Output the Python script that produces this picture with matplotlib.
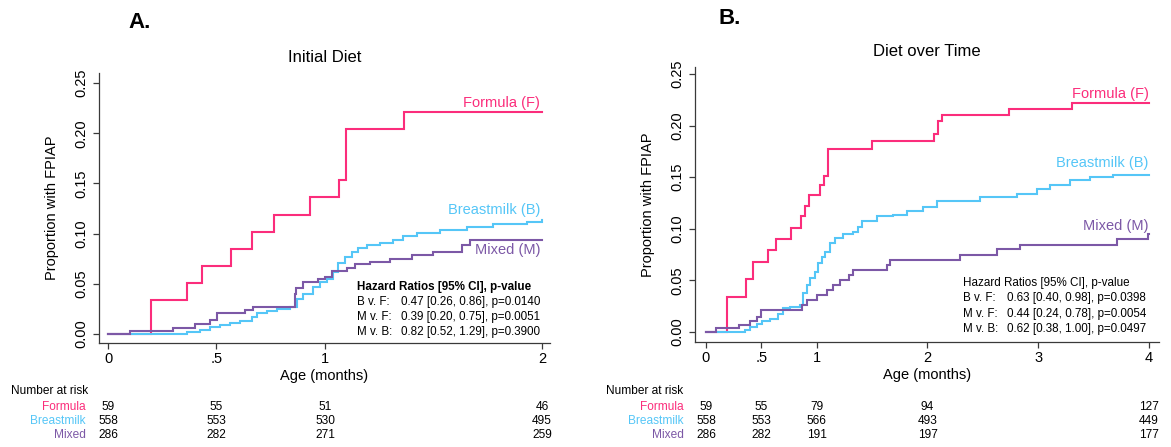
import matplotlib
matplotlib.use('Agg')
import matplotlib.pyplot as plt
import matplotlib.transforms as mtransforms

plt.rcParams['font.family'] = ['Liberation Sans', 'DejaVu Sans']

# ---- Panel A: Initial Diet (cumulative proportion with FPIAP) ----
a_form_t = [0, 0.198, 0.366, 0.432, 0.565, 0.665, 0.765, 0.931, 1.066, 1.097, 1.364, 2.0]
a_form_y = [0, 0.034, 0.051, 0.068, 0.085, 0.102, 0.119, 0.136, 0.153, 0.204, 0.221, 0.221]

a_breast_t = [0, 0.363, 0.424, 0.470, 0.516, 0.562, 0.608, 0.662, 0.685, 0.731, 0.777, 0.839,
              0.869, 0.900, 0.946, 0.977, 1.007, 1.038, 1.062, 1.092, 1.123, 1.154, 1.192,
              1.253, 1.315, 1.361, 1.422, 1.530, 1.653, 1.776, 1.930, 2.0]
a_breast_y = [0, 0.002, 0.004, 0.007, 0.009, 0.011, 0.013, 0.017, 0.021, 0.023, 0.025, 0.027,
              0.035, 0.040, 0.047, 0.052, 0.055, 0.062, 0.071, 0.077, 0.082, 0.086, 0.089,
              0.091, 0.094, 0.098, 0.101, 0.104, 0.107, 0.110, 0.112, 0.114]

a_mixed_t = [0, 0.101, 0.298, 0.401, 0.470, 0.501, 0.631, 0.667, 0.862, 0.865, 0.900, 0.969,
             1.0, 1.031, 1.100, 1.138, 1.207, 1.300, 1.400, 1.499, 1.630, 1.668, 2.0]
a_mixed_y = [0, 0.003, 0.006, 0.010, 0.014, 0.021, 0.024, 0.027, 0.040, 0.046, 0.052, 0.055,
             0.057, 0.063, 0.066, 0.070, 0.072, 0.075, 0.079, 0.082, 0.089, 0.094, 0.094]

# ---- Panel B: Diet over Time ----
b_form_t = [0, 0.187, 0.361, 0.427, 0.563, 0.632, 0.765, 0.861, 0.897, 0.933, 1.029, 1.065,
            1.099, 1.496, 2.062, 2.098, 2.131, 2.736, 3.302, 4.0]
b_form_y = [0, 0.034, 0.051, 0.068, 0.079, 0.090, 0.101, 0.112, 0.122, 0.133, 0.142, 0.151,
            0.177, 0.185, 0.192, 0.204, 0.210, 0.216, 0.222, 0.222]

b_breast_t = [0, 0.352, 0.397, 0.458, 0.503, 0.578, 0.653, 0.692, 0.758, 0.849, 0.879, 0.909,
              0.939, 0.984, 1.014, 1.044, 1.074, 1.120, 1.165, 1.240, 1.330, 1.375, 1.406,
              1.541, 1.691, 1.812, 1.962, 2.083, 2.474, 2.805, 2.986, 3.106, 3.287, 3.467,
              3.678, 4.0]
b_breast_y = [0, 0.002, 0.005, 0.008, 0.011, 0.013, 0.017, 0.023, 0.024, 0.026, 0.038, 0.046,
              0.052, 0.058, 0.067, 0.073, 0.078, 0.086, 0.091, 0.095, 0.097, 0.102, 0.108,
              0.112, 0.113, 0.117, 0.121, 0.127, 0.131, 0.134, 0.139, 0.142, 0.147, 0.150,
              0.152, 0.152]

b_mixed_t = [0, 0.090, 0.301, 0.397, 0.458, 0.497, 0.864, 0.909, 1.0, 1.09, 1.144, 1.21,
             1.294, 1.330, 1.631, 1.661, 2.293, 2.625, 2.835, 3.708, 3.995, 4.0]
b_mixed_y = [0, 0.004, 0.007, 0.011, 0.015, 0.021, 0.026, 0.031, 0.036, 0.041, 0.046, 0.050,
             0.055, 0.060, 0.065, 0.070, 0.075, 0.080, 0.084, 0.090, 0.095, 0.095]

groups = ['Formula', 'Breastmilk', 'Mixed']
curve_labels = ['Formula (F)', 'Breastmilk (B)', 'Mixed (M)']
colors = ['#fb2d7b', '#55c6f7', '#7c58a6']

a_risk_t = [0, 0.5, 1, 2]
a_risk = [[59, 55, 51, 46], [558, 553, 530, 495], [286, 282, 271, 259]]
b_risk_t = [0, 0.5, 1, 2, 4]
b_risk = [[59, 55, 79, 94, 127], [558, 553, 566, 493, 449], [286, 282, 191, 197, 177]]

a_hr = ['0.47 [0.26, 0.86], p=0.0140', '0.39 [0.20, 0.75], p=0.0051', '0.82 [0.52, 1.29], p=0.3900']
b_hr = ['0.63 [0.40, 0.98], p=0.0398', '0.44 [0.24, 0.78], p=0.0054', '0.62 [0.38, 1.00], p=0.0497']
hr_pairs = ['B v. F:', 'M v. F:', 'M v. B:']

W, H = 1171, 447
fig = plt.figure(figsize=(W / 100, H / 100), dpi=100)


def px(x, y):
    # pixel -> figure fraction
    return x / W, 1 - y / H


def panel(rect, xlim, ylim, xticks, xticklabels, curves, title, letter, letter_xy,
          lab_y, hr_x, hr_y, hr_vals, hr_bold, risk_t, risk, risk_left, risk_right):
    ax = fig.add_axes(rect)
    for (t, y), c in zip(curves, colors):
        ax.step(t, y, where='post', color=c, lw=1.5, solid_joinstyle='miter')
    ax.set_xlim(*xlim)
    ax.set_ylim(*ylim)
    for s in ['top', 'right']:
        ax.spines[s].set_visible(False)
    for s in ['left', 'bottom']:
        ax.spines[s].set_color('#3a3a3a')
        ax.spines[s].set_linewidth(0.9)
    ax.set_xticks(xticks)
    ax.set_xticklabels(xticklabels)
    ax.set_yticks([0, 0.05, 0.10, 0.15, 0.20, 0.25])
    ax.set_yticklabels(['0.00', '0.05', '0.10', '0.15', '0.20', '0.25'])
    ax.tick_params(axis='both', length=4, width=0.9, color='#3a3a3a', labelsize=10.5, pad=2.5)
    ax.tick_params(axis='y', labelrotation=90, pad=4)
    for lab in ax.get_yticklabels():
        lab.set_va('center')
    ax.set_xlabel('Age (months)', fontsize=10.5, labelpad=2)
    ax.set_ylabel('Proportion with FPIAP', fontsize=10.5, labelpad=11)
    ax.set_title(title, fontsize=12, pad=8)
    fig.text(*px(*letter_xy), letter, fontsize=16, fontweight='bold', ha='center', va='center')

    # curve labels at right end
    for lbl, c, yy in zip(curve_labels, colors, lab_y):
        ax.text(xlim[1] - (xlim[1] - xlim[0]) * 0.022, yy, lbl, color=c, fontsize=10.5,
                ha='right', va='center')

    # hazard ratio box
    ax.text(hr_x, hr_y[0], 'Hazard Ratios [95% CI], p-value', fontsize=8.4,
            fontweight='bold' if hr_bold else 'normal', ha='left', va='center')
    for pair, val, yy in zip(hr_pairs, hr_vals, hr_y[1:]):
        ax.text(hr_x, yy, pair, fontsize=8.4, ha='left', va='center')
        ax.annotate(val, (hr_x, yy), xytext=(44, 0), textcoords='offset pixels',
                    fontsize=8.4, ha='left', va='center')

    # number at risk table
    trans = mtransforms.blended_transform_factory(ax.transData, fig.transFigure)
    fig.text(*px(risk_left, 391), 'Number at risk', fontsize=8.6, ha='left', va='center')
    for g, c, row, yy in zip(groups, colors, risk, [406.5, 421, 434.5]):
        fig.text(*px(risk_right, yy), g, color=c, fontsize=8.6, ha='right', va='center')
        for t, n in zip(risk_t, row):
            ax.text(t, 1 - yy / H, str(n), transform=trans, fontsize=8.6,
                    ha='center', va='center', clip_on=False)
    return ax


panel([99 / W, 1 - 343 / H, (550 - 99) / W, (343 - 73) / H],
      (-0.0415, 2.037), (-0.009, 0.26), [0, 0.5, 1, 2], ['0', '.5', '1', '2'],
      [(a_form_t, a_form_y), (a_breast_t, a_breast_y), (a_mixed_t, a_mixed_y)],
      'Initial Diet', 'A.', (140, 23), [0.230, 0.124, 0.084],
      1.149, [0.0468, 0.0319, 0.0169, 0.002], a_hr, True,
      a_risk_t, a_risk, 11, 86)

panel([695 / W, 1 - 342 / H, (1159 - 695) / W, (342 - 67) / H],
      (-0.099, 4.09), (-0.0097, 0.2568), [0, 0.5, 1, 2, 3, 4], ['0', '.5', '1', '2', '3', '4'],
      [(b_form_t, b_form_y), (b_breast_t, b_breast_y), (b_mixed_t, b_mixed_y)],
      'Diet over Time', 'B.', (730, 18), [0.2306, 0.1638, 0.1027],
      2.32, [0.0478, 0.0327, 0.0174, 0.0026], b_hr, False,
      b_risk_t, b_risk, 606, 684)

fig.savefig('out.png', dpi=100)
